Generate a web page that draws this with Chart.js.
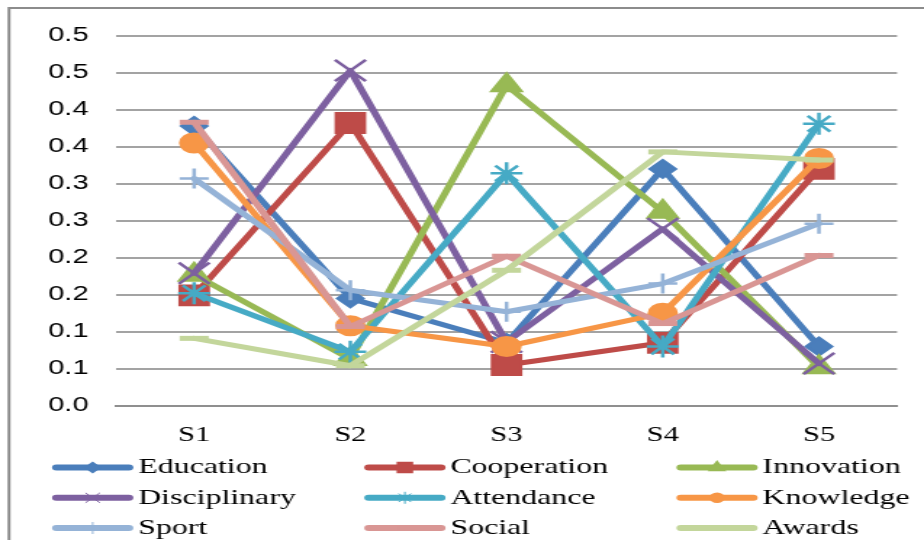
<!DOCTYPE html>
<html>
<head>
<meta charset="utf-8">
<script src="https://cdn.jsdelivr.net/npm/chart.js@4.4.0/dist/chart.umd.min.js"></script>
<style>
  html, body { margin: 0; padding: 0; background: #fff; overflow: hidden; }
  #wrap { width: 924px; height: 540px; overflow: hidden; position: relative; }
  /* the drawing is made on a narrower canvas and widened to the page width */
  #chart { position: absolute; left: 0; top: 0; transform-origin: 0 0; transform: scaleX(1.4506); }
</style>
</head>
<body>
<div id="wrap"><canvas id="chart" width="637" height="540"></canvas></div>
<script>
// ---- data ----
const categories = ['S1', 'S2', 'S3', 'S4', 'S5'];
const seriesNames = ['Education', 'Cooperation', 'Innovation', 'Disciplinary', 'Attendance', 'Knowledge', 'Sport', 'Social', 'Awards'];

const education    = [0.378, 0.145, 0.085, 0.320, 0.080];
const cooperation  = [0.149, 0.382, 0.055, 0.085, 0.320];
const innovation   = [0.177, 0.063, 0.433, 0.262, 0.052];
const disciplinary = [0.179, 0.453, 0.086, 0.239, 0.057];
const attendance   = [0.152, 0.073, 0.314, 0.080, 0.381];
const knowledge    = [0.355, 0.108, 0.080, 0.125, 0.334];
const sport        = [0.307, 0.156, 0.127, 0.165, 0.246];
const social       = [0.383, 0.107, 0.202, 0.111, 0.203];
const awards       = [0.091, 0.054, 0.183, 0.343, 0.332];

const yTickValues = [0, 0.05, 0.1, 0.15, 0.2, 0.25, 0.3, 0.35, 0.4, 0.45, 0.5];
const yTickLabels = ['0.0', '0.1', '0.1', '0.2', '0.2', '0.3', '0.3', '0.4', '0.4', '0.5', '0.5'];

// ---- styling ----
const serifFamily = '"Liberation Serif", "DejaVu Serif", serif';
const sansFamily = '"Liberation Sans", Arial, sans-serif';

const seriesValues = [education, cooperation, innovation, disciplinary, attendance, knowledge, sport, social, awards];
const seriesStyles = [
  { color: '#4a7ebb', marker: 'rectRot',  r: 9,   bw: 2,   lr: 5,   lbw: 1.5 },
  { color: '#be4b48', marker: 'rect',     r: 14,  bw: 2,   lr: 7,   lbw: 1.5 },
  { color: '#98b954', marker: 'triangle', r: 12,  bw: 2,   lr: 6,   lbw: 1.5 },
  { color: '#7d60a0', marker: 'crossRot', r: 15,  bw: 2.5, lr: 7,   lbw: 1 },
  { color: '#46aac5', marker: 'star',     r: 11,  bw: 2.5, lr: 6,   lbw: 1 },
  { color: '#f79646', marker: 'circle',   r: 9.5, bw: 2,   lr: 4.5, lbw: 1.5 },
  { color: '#95b3d7', marker: 'cross',    r: 10,  bw: 2.5, lr: 6,   lbw: 1 },
  { color: '#d99694', marker: 'line',     r: 10,  bw: 5,   lr: 5,   lbw: 5 },
  { color: '#c3d69b', marker: 'line',     r: 10,  bw: 5,   lr: 5,   lbw: 5 }
];

const legendColumns = [35.9, 251.1, 466.3];
const legendRows = [467.5, 497.8, 528];
const keyLineLength = 56;
const keyTextGap = 59.3;

const datasets = seriesNames.map((name, i) => ({
  label: name,
  data: seriesValues[i],
  borderColor: seriesStyles[i].color,
  backgroundColor: seriesStyles[i].color,
  borderWidth: 5,
  borderCapStyle: 'round',
  borderJoinStyle: 'round',
  tension: 0,
  fill: false,
  pointStyle: seriesStyles[i].marker,
  pointRadius: seriesStyles[i].r,
  pointBorderWidth: seriesStyles[i].bw,
  pointBackgroundColor: seriesStyles[i].color,
  pointBorderColor: seriesStyles[i].color,
  order: seriesNames.length - 1 - i,
  clip: false
}));

// white background and the outer frame
const framePlugin = {
  id: 'frame',
  beforeDraw(chart) {
    const ctx = chart.ctx;
    ctx.save();
    ctx.fillStyle = '#ffffff';
    ctx.fillRect(0, 0, chart.width, chart.height);
    ctx.strokeStyle = '#8c8c8c';
    ctx.lineWidth = 2;
    ctx.beginPath();
    ctx.moveTo(6.2, chart.height + 2);
    ctx.lineTo(6.2, 8);
    ctx.lineTo(chart.width + 2, 8);
    ctx.stroke();
    ctx.restore();
  }
};

// three-column series key under the plot
const keyPlugin = {
  id: 'seriesKey',
  afterDraw(chart) {
    const ctx = chart.ctx;
    const helpers = Chart.helpers || {};
    seriesNames.forEach((name, i) => {
      const st = seriesStyles[i];
      const x = legendColumns[i % 3];
      const y = legendRows[Math.floor(i / 3)];
      ctx.save();
      ctx.strokeStyle = st.color;
      ctx.fillStyle = st.color;
      ctx.lineWidth = 6;
      ctx.lineCap = 'round';
      ctx.beginPath();
      ctx.moveTo(x + 3, y);
      ctx.lineTo(x + keyLineLength - 3, y);
      ctx.stroke();
      if (helpers.drawPoint) {
        ctx.lineWidth = st.lbw;
        ctx.lineCap = 'butt';
        helpers.drawPoint(ctx, { pointStyle: st.marker, radius: st.lr, borderWidth: st.lbw, rotation: 0 }, x + keyLineLength / 2, y);
      }
      ctx.fillStyle = '#000000';
      ctx.font = '22px ' + serifFamily;
      ctx.textBaseline = 'middle';
      ctx.textAlign = 'left';
      ctx.fillText(name, x + keyTextGap, y);
      ctx.restore();
    });
  }
};

new Chart(document.getElementById('chart'), {
  type: 'line',
  data: { labels: categories, datasets },
  plugins: [framePlugin, keyPlugin],
  options: {
    responsive: false,
    maintainAspectRatio: false,
    animation: false,
    events: [],
    devicePixelRatio: 1,
    layout: { padding: { left: 0, right: 18.6, top: 35.7, bottom: 94.3 } },
    plugins: { legend: { display: false }, tooltip: { enabled: false }, title: { display: false } },
    scales: {
      x: {
        type: 'category',
        offset: true,
        grid: { display: false, drawTicks: false },
        border: { display: true, color: '#8f8f8f', width: 2 },
        ticks: { color: '#000', font: { family: serifFamily, size: 21 }, padding: 17, maxRotation: 0, autoSkip: false },
        afterFit: s => { s.height = 40; }
      },
      y: {
        min: 0,
        max: 0.5,
        afterBuildTicks: s => { s.ticks = yTickValues.map(v => ({ value: v })); },
        grid: { color: '#a3a3a3', lineWidth: 2, drawTicks: false },
        border: { display: false },
        ticks: { color: '#000', font: { family: sansFamily, size: 20 }, padding: 19, callback: (v, i) => yTickLabels[i] },
        afterFit: s => { s.width = 80; }
      }
    }
  }
});
</script>
</body>
</html>
